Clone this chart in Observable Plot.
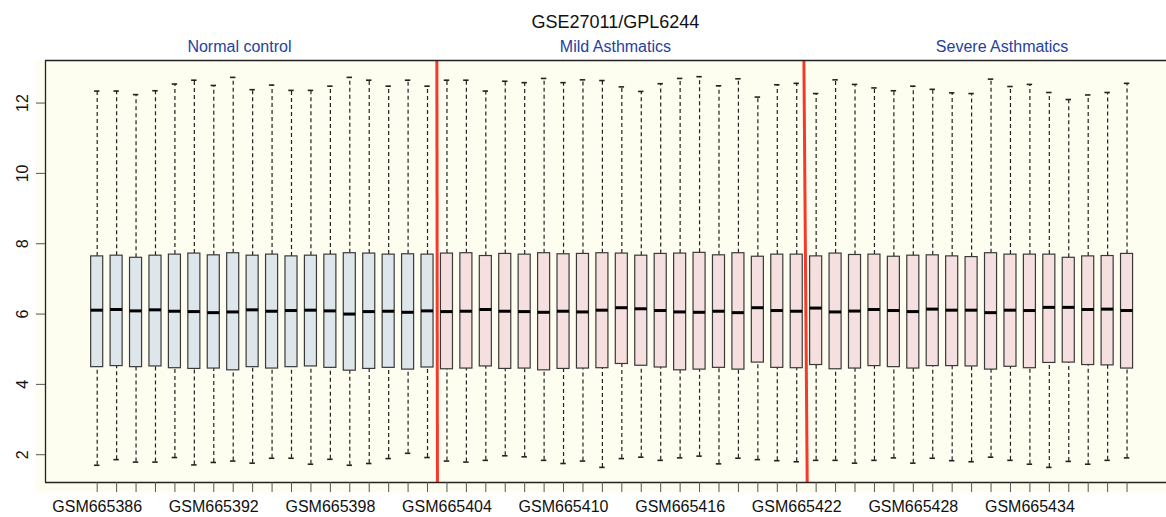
<!DOCTYPE html>
<html><head><meta charset="utf-8">
<script src="https://cdn.jsdelivr.net/npm/d3@7"></script>
<script src="https://cdn.jsdelivr.net/npm/@observablehq/plot@0.6"></script>
<style>html,body{margin:0;padding:0;background:#fff;} svg{display:block}</style>
</head><body><div id="chart"></div>
<script>
const samples = ["GSM665386","GSM665387","GSM665388","GSM665389","GSM665390","GSM665391","GSM665392","GSM665393","GSM665394","GSM665395","GSM665396","GSM665397","GSM665398","GSM665399","GSM665400","GSM665401","GSM665402","GSM665403",
"GSM665404","GSM665405","GSM665406","GSM665407","GSM665408","GSM665409","GSM665410","GSM665411","GSM665412","GSM665413","GSM665414","GSM665415","GSM665416","GSM665417","GSM665418","GSM665419","GSM665420","GSM665421","GSM665422",
"GSM665423","GSM665424","GSM665425","GSM665426","GSM665427","GSM665428","GSM665429","GSM665430","GSM665431","GSM665432","GSM665433","GSM665434","GSM665435","GSM665436","GSM665437","GSM665438","GSM665439"];
const groupNames = ["Normal control", "Mild Asthmatics", "Severe Asthmatics"];
const groupSizes = [18, 19, 17];
const xTickLabels = ["GSM665386","GSM665392","GSM665398","GSM665404","GSM665410","GSM665416","GSM665422","GSM665428","GSM665434"];
const yTicks = [2, 4, 6, 8, 10, 12];
const title = "GSE27011/GPL6244";

const whiskerHigh = [12.34,12.34,12.24,12.35,12.54,12.65,12.50,12.73,12.38,12.51,12.36,12.36,12.48,12.73,12.65,12.48,12.65,12.48,
12.65,12.65,12.34,12.62,12.58,12.70,12.58,12.66,12.64,12.46,12.33,12.55,12.70,12.75,12.49,12.69,12.17,12.52,12.56,
12.27,12.66,12.53,12.43,12.35,12.48,12.39,12.29,12.27,12.68,12.47,12.53,12.30,12.10,12.23,12.30,12.56];
const q3 = [7.64,7.66,7.60,7.66,7.69,7.72,7.67,7.73,7.66,7.69,7.64,7.66,7.69,7.73,7.72,7.69,7.70,7.69,
7.72,7.73,7.65,7.71,7.69,7.73,7.70,7.71,7.73,7.72,7.66,7.71,7.72,7.74,7.67,7.73,7.63,7.69,7.69,
7.64,7.72,7.68,7.69,7.63,7.66,7.67,7.64,7.62,7.73,7.69,7.69,7.69,7.60,7.64,7.65,7.71];
const medians = [6.11,6.13,6.09,6.12,6.08,6.07,6.04,6.06,6.12,6.08,6.10,6.11,6.09,6.00,6.07,6.08,6.05,6.09,
6.07,6.08,6.13,6.08,6.07,6.05,6.08,6.06,6.11,6.18,6.15,6.10,6.06,6.05,6.08,6.04,6.18,6.10,6.08,
6.17,6.06,6.085,6.13,6.10,6.07,6.14,6.11,6.11,6.04,6.11,6.10,6.19,6.19,6.13,6.14,6.10];
const q1 = [4.49,4.52,4.49,4.51,4.46,4.44,4.45,4.40,4.49,4.45,4.49,4.51,4.47,4.39,4.44,4.47,4.42,4.48,
4.43,4.45,4.51,4.44,4.45,4.40,4.44,4.45,4.46,4.58,4.53,4.48,4.40,4.42,4.47,4.42,4.62,4.47,4.46,
4.55,4.43,4.45,4.52,4.49,4.45,4.52,4.52,4.51,4.42,4.50,4.46,4.61,4.62,4.55,4.54,4.45];
const whiskerLow = [1.70,1.86,1.79,1.79,1.92,1.71,1.78,1.82,1.76,1.90,1.90,1.73,1.87,1.70,1.75,1.89,2.04,1.92,
1.82,1.79,1.84,1.97,1.94,1.84,1.75,1.82,1.64,1.89,1.93,1.84,1.91,1.96,1.74,1.90,1.86,1.83,1.80,
1.84,1.84,1.76,1.84,1.91,1.76,1.90,1.83,1.80,1.93,1.84,1.73,1.64,1.81,1.73,1.84,1.91];

// ---- build table ----
const groupOf = [];
groupNames.forEach((g, k) => { for (let j = 0; j < groupSizes[k]; j++) groupOf.push(g); });
const rows = samples.map((s, i) => ({i, s, group: groupOf[i], lo: whiskerLow[i], q1: q1[i], med: medians[i], q3: q3[i], hi: whiskerHigh[i]}));
const fills = {"Normal control": "#dde6ea", "Mild Asthmatics": "#f6dfdf", "Severe Asthmatics": "#f6dfdf"};

// group boundaries (between last of one group and first of next), slightly slanted as in source
const separators = [{top: 17.48, bottom: 17.51}, {top: 36.37, bottom: 36.54}];
const groupLabelX = [7.32, 26.67, 46.57];
const titleX = 26.67;

const xDomain = [-2.66, 55.03];
const yDomain = [1.21, 13.21];
const hw = 0.31, cap = 0.14;

const chart = Plot.plot({
  width: 1166, height: 517,
  marginLeft: 45, marginRight: 0, marginTop: 60, marginBottom: 35,
  x: {domain: xDomain, axis: null},
  y: {domain: yDomain, axis: null},
  style: {fontFamily: "'Liberation Sans', Arial, Helvetica, sans-serif", background: "#ffffff", color: "#111"},
  marks: [
    Plot.frame({fill: "#fdfdf0", stroke: "none", insetLeft: -10, insetBottom: -10}),
    Plot.ruleX(rows, {x: "i", y1: "q3", y2: "hi", stroke: "#222", strokeWidth: 1.2, strokeDasharray: "4,3"}),
    Plot.ruleX(rows, {x: "i", y1: "lo", y2: "q1", stroke: "#222", strokeWidth: 1.2, strokeDasharray: "4,3"}),
    Plot.ruleY(rows, {y: "hi", x1: d => d.i - cap, x2: d => d.i + cap, stroke: "#222", strokeWidth: 1.6}),
    Plot.ruleY(rows, {y: "lo", x1: d => d.i - cap, x2: d => d.i + cap, stroke: "#222", strokeWidth: 1.6}),
    Plot.rect(rows, {x1: d => d.i - hw, x2: d => d.i + hw, y1: "q1", y2: "q3", fill: d => fills[d.group], stroke: "#3a3a3a", strokeWidth: 1.2}),
    Plot.ruleY(rows, {y: "med", x1: d => d.i - hw, x2: d => d.i + hw, stroke: "#000", strokeWidth: 3}),
    Plot.link(separators, {x1: "top", x2: "bottom", y1: () => yDomain[1], y2: () => yDomain[0], stroke: "#f23b2b", strokeWidth: 3}),
    Plot.ruleY([yDomain[1], yDomain[0]], {stroke: "#222", strokeWidth: 1.3}),
    Plot.ruleX([xDomain[0]], {stroke: "#222", strokeWidth: 1.3}),
    Plot.axisY({ticks: yTicks, tickSize: 9, tickFormat: () => "", stroke: "#555"}),
    Plot.text(yTicks, {y: d => d, frameAnchor: "left", dx: -23, rotate: -90, textAnchor: "middle", lineAnchor: "middle", text: d => String(d), fontSize: 16, fill: "#111"}),
    Plot.axisX({ticks: rows.map(d => d.i), tickSize: 10, stroke: "#555", tickPadding: 8, fontSize: 16, fill: "#111",
      tickFormat: i => xTickLabels.includes(samples[i]) ? samples[i] : ""}),
    Plot.text([title], {x: () => titleX, frameAnchor: "top", lineAnchor: "middle", dy: -38, fontSize: 18, fill: "#111", text: d => d}),
    Plot.text(groupNames, {x: (d, k) => groupLabelX[k], frameAnchor: "top", lineAnchor: "middle", dy: -14, fontSize: 16, fill: "#2342a0", text: d => d})
  ]
});
document.getElementById("chart").appendChild(chart);
</script>
</body></html>
